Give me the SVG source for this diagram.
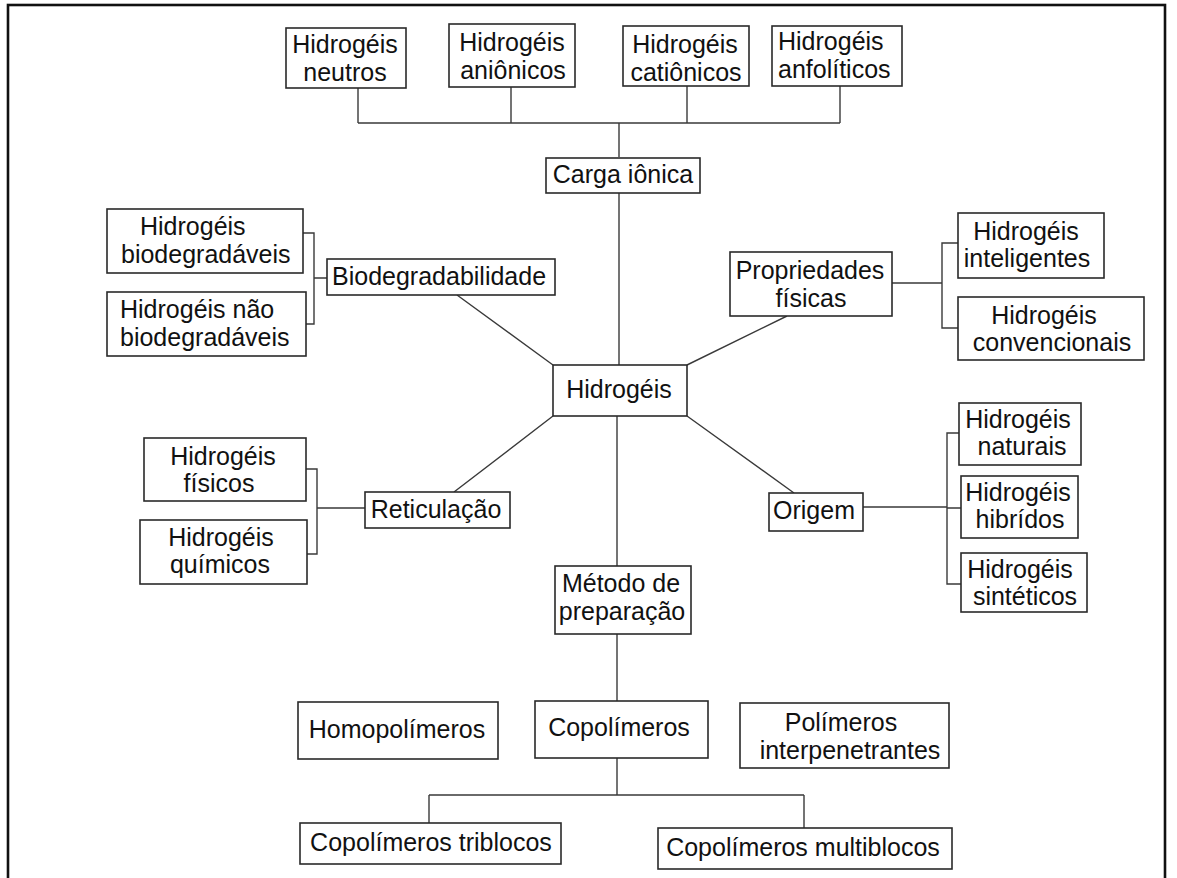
<svg xmlns="http://www.w3.org/2000/svg" width="1177" height="878" viewBox="0 0 1177 878">
<style>
.b{fill:#fff;stroke:#2a2a2a;stroke-width:1.6}
.t{font-family:"Liberation Sans",Arial,sans-serif;font-size:25px;fill:#111}
.m{text-anchor:middle}
.c{fill:none;stroke:#3a3a3a;stroke-width:1.4}
</style>
<rect x="0" y="0" width="1177" height="878" fill="#fff"/>
<rect x="8" y="5" width="1157" height="900" fill="none" stroke="#111" stroke-width="2.6"/>
<g id="connectors" class="c">
<path d="M358 88V123M511 87V123M687 86V123M840 86V123M358 123H840M619 123V157"/>
<path d="M619 193V365M617 416V566M617 634V701M617 758V795M429 795H804M429 795V823M804 795V828"/>
<path d="M303 233H314V324H306M314 278H327"/>
<path d="M892 283H942M958 243H942V328H958"/>
<path d="M306 469H317V554H307M317 508H365"/>
<path d="M863 507H947M959 433H947V584H961M947 508H961"/>
<path d="M457 295L553 365M787 316L687 365M454 492L553 416M687 416L794 493"/>
</g>
<g id="n-neutros"><rect class="b" x="286" y="28" width="120" height="60"/><text class="t m" x="345" y="53">Hidrogéis<tspan x="345" y="81">neutros</tspan></text></g>
<g id="n-anionicos"><rect class="b" x="449" y="24" width="126" height="63"/><text class="t m" x="512" y="51">Hidrogéis<tspan x="513" y="79">aniônicos</tspan></text></g>
<g id="n-cationicos"><rect class="b" x="623" y="26" width="126" height="60"/><text class="t m" x="685" y="53">Hidrogéis<tspan x="686" y="81">catiônicos</tspan></text></g>
<g id="n-anfoliticos"><rect class="b" x="772" y="26" width="130" height="60"/><text class="t" x="778" y="50">Hidrogéis<tspan x="778" y="78">anfolíticos</tspan></text></g>
<g id="n-carga"><rect class="b" x="546" y="158" width="154" height="35"/><text class="t m" x="623" y="183">Carga iônica</text></g>
<g id="n-bio"><rect class="b" x="107" y="209" width="196" height="64"/><text class="t" x="140" y="235">Hidrogéis<tspan x="121" y="263">biodegradáveis</tspan></text></g>
<g id="n-naobio"><rect class="b" x="107" y="292" width="199" height="64"/><text class="t" x="120" y="318">Hidrogéis não<tspan x="120" y="346">biodegradáveis</tspan></text></g>
<g id="n-biodeg"><rect class="b" x="327" y="259" width="228" height="36"/><text class="t" x="332" y="285">Biodegradabilidade</text></g>
<g id="n-prop"><rect class="b" x="730" y="252" width="162" height="64"/><text class="t m" x="810" y="279">Propriedades<tspan x="811" y="307">físicas</tspan></text></g>
<g id="n-intel"><rect class="b" x="958" y="213" width="146" height="65"/><text class="t m" x="1026" y="240">Hidrogéis<tspan x="1027" y="267">inteligentes</tspan></text></g>
<g id="n-conv"><rect class="b" x="958" y="297" width="186" height="63"/><text class="t m" x="1044" y="324">Hidrogéis<tspan x="1052" y="351">convencionais</tspan></text></g>
<g id="n-hidrogeis"><rect class="b" x="553" y="365" width="134" height="51"/><text class="t m" x="619" y="398">Hidrogéis</text></g>
<g id="n-fisicos"><rect class="b" x="144" y="438" width="162" height="63"/><text class="t m" x="223" y="465">Hidrogéis<tspan x="219" y="492">físicos</tspan></text></g>
<g id="n-quimicos"><rect class="b" x="140" y="520" width="167" height="64"/><text class="t m" x="221" y="546">Hidrogéis<tspan x="220" y="573">químicos</tspan></text></g>
<g id="n-retic"><rect class="b" x="365" y="492" width="145" height="36"/><text class="t m" x="436" y="518">Reticulação</text></g>
<g id="n-origem"><rect class="b" x="769" y="493" width="94" height="38"/><text class="t m" x="814" y="519">Origem</text></g>
<g id="n-naturais"><rect class="b" x="959" y="403" width="122" height="62"/><text class="t m" x="1018" y="428">Hidrogéis<tspan x="1022" y="455">naturais</tspan></text></g>
<g id="n-hibridos"><rect class="b" x="961" y="476" width="117" height="62"/><text class="t m" x="1018" y="501">Hidrogéis<tspan x="1020" y="528">hibrídos</tspan></text></g>
<g id="n-sinteticos"><rect class="b" x="961" y="553" width="126" height="59"/><text class="t m" x="1020" y="578">Hidrogéis<tspan x="1025" y="605">sintéticos</tspan></text></g>
<g id="n-metodo"><rect class="b" x="555" y="566" width="136" height="68"/><text class="t m" x="621" y="592">Método de<tspan x="622" y="620">preparação</tspan></text></g>
<g id="n-homo"><rect class="b" x="298" y="702" width="200" height="57"/><text class="t m" x="397" y="738">Homopolímeros</text></g>
<g id="n-copo"><rect class="b" x="535" y="701" width="173" height="57"/><text class="t m" x="619" y="736">Copolímeros</text></g>
<g id="n-inter"><rect class="b" x="740" y="703" width="209" height="65"/><text class="t m" x="841" y="731">Polímeros<tspan x="850" y="759">interpenetrantes</tspan></text></g>
<g id="n-tri"><rect class="b" x="300" y="823" width="261" height="41"/><text class="t m" x="431" y="851">Copolímeros triblocos</text></g>
<g id="n-multi"><rect class="b" x="658" y="828" width="294" height="41"/><text class="t m" x="803" y="856">Copolímeros multiblocos</text></g>
</svg>
